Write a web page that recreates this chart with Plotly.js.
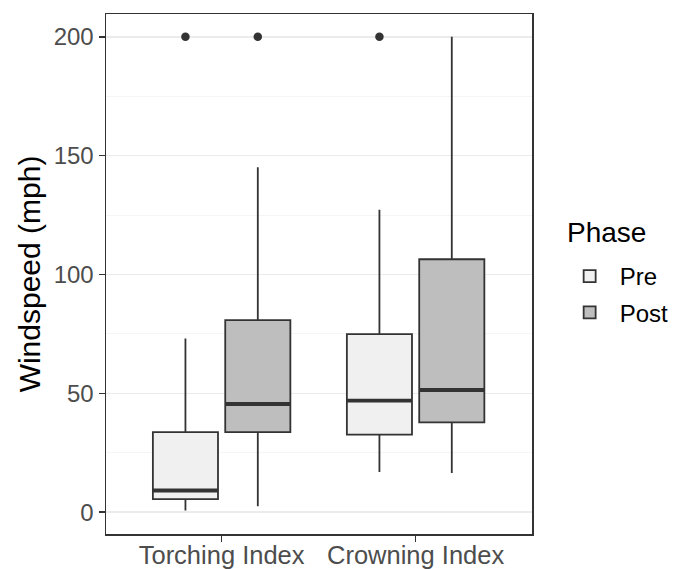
<!DOCTYPE html>
<html>
<head>
<meta charset="utf-8">
<script src="https://cdn.plot.ly/plotly-3.0.1.min.js"></script>
<style>html,body{margin:0;padding:0;background:#fff;} #chart{width:685px;height:569px;}</style>
</head>
<body>
<div id="chart"></div>
<script>
// Categories and tick labels
var categories = ['Torching Index', 'Crowning Index'];
var yTickVals = [0, 50, 100, 150, 200];

// Phase: Pre
var preLower  = [0.7, 16.9];
var preQ1     = [5.5, 32.6];
var preMedian = [9.1, 46.9];
var preQ3     = [33.7, 74.9];
var preUpper  = [73.1, 127.2];
var preOutliers = [[200], [200]];

// Phase: Post
var postLower  = [2.5, 16.5];
var postQ1     = [33.7, 37.8];
var postMedian = [45.5, 51.4];
var postQ3     = [80.8, 106.4];
var postUpper  = [145.1, 200];
var postOutliers = [[200], []];

var lineCol = '#333333';

function boxTrace(name, fill, lower, q1, med, q3, upper, outs) {
  return {
    type: 'box', name: name, x: categories, y: outs,
    q1: q1, median: med, q3: q3, lowerfence: lower, upperfence: upper,
    offsetgroup: name, legendgroup: name, boxpoints: 'outliers', pointpos: 0, jitter: 0,
    whiskerwidth: 0, fillcolor: fill,
    line: {color: lineCol, width: 1.8},
    marker: {color: lineCol, size: 8.5, line: {width: 0}},
    hoverinfo: 'skip'
  };
}
function medianTrace(name, med) {
  return {
    type: 'box', name: name + ' median', x: categories,
    q1: med, median: med, q3: med, lowerfence: med, upperfence: med,
    offsetgroup: name, legendgroup: name, boxpoints: false, whiskerwidth: 0,
    fillcolor: 'rgba(0,0,0,0)', line: {color: lineCol, width: 3.8},
    showlegend: false, hoverinfo: 'skip'
  };
}

var data = [
  boxTrace('Pre', '#F0F0F0', preLower, preQ1, preMedian, preQ3, preUpper, preOutliers),
  boxTrace('Post', '#BEBEBE', postLower, postQ1, postMedian, postQ3, postUpper, postOutliers),
  medianTrace('Pre', preMedian),
  medianTrace('Post', postMedian)
];

var layout = {
  width: 685, height: 569,
  margin: {l: 106, r: 153, t: 14, b: 35},
  paper_bgcolor: '#ffffff', plot_bgcolor: '#ffffff',
  font: {family: 'Liberation Sans, Arial, sans-serif', color: '#000000'},
  boxmode: 'group', boxgap: 0.254, boxgroupgap: 0.1,
  showlegend: true,
  legend: {
    xref: 'container', yref: 'container',
    x: 0.817, y: 0.5536, xanchor: 'left', yanchor: 'top',
    font: {size: 24, color: '#000000'},
    itemwidth: 50,
    bgcolor: 'rgba(0,0,0,0)', traceorder: 'grouped', tracegroupgap: 2
  },
  annotations: [{
    text: 'Phase', xref: 'paper', yref: 'paper',
    x: 1.0775, y: 0.579, xanchor: 'left', yanchor: 'middle',
    showarrow: false, font: {size: 28, color: '#000000'}
  }],
  xaxis: {
    type: 'category', range: [-0.596, 1.6],
    showgrid: false, zeroline: false,
    showline: true, mirror: true, linecolor: lineCol, linewidth: 1.5,
    ticks: 'outside', ticklen: 6, tickwidth: 1.5, tickcolor: lineCol,
    ticklabelstandoff: -8,
    tickfont: {size: 25.5, color: '#4D4D4D'}
  },
  yaxis: {
    range: [-9.2, 209.6],
    tickvals: yTickVals, ticktext: yTickVals.map(String),
    showgrid: true, gridcolor: '#EBEBEB', gridwidth: 1.5,
    minor: {dtick: 25, showgrid: true, gridcolor: '#F2F2F2', gridwidth: 0.8, ticks: ''},
    zeroline: false,
    showline: true, mirror: true, linecolor: lineCol, linewidth: 1.5,
    ticks: 'outside', ticklen: 6, tickwidth: 1.5, tickcolor: lineCol,
    tickfont: {size: 24, color: '#4D4D4D'},
    title: {text: 'Windspeed (mph)', font: {size: 30, color: '#000000'}, standoff: 4}
  }
};

Plotly.newPlot('chart', data, layout, {staticPlot: true, displayModeBar: false});
</script>
</body>
</html>
